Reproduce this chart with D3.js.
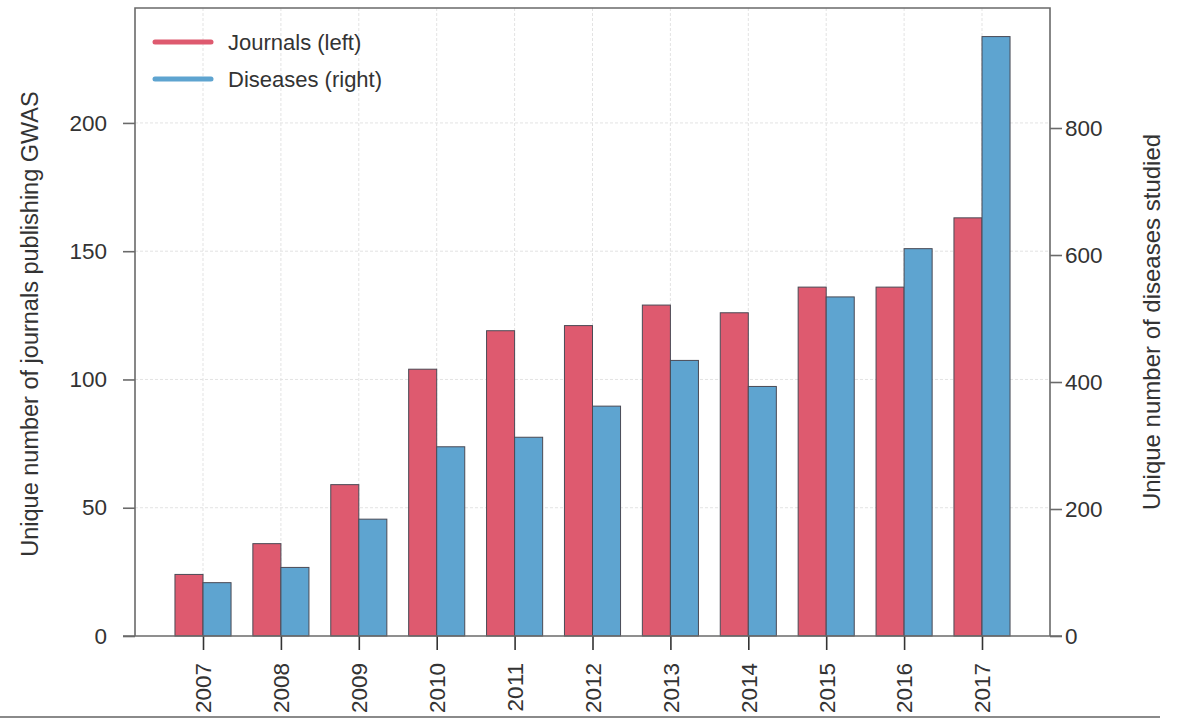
<!DOCTYPE html>
<html>
<head>
<meta charset="utf-8">
<script src="https://cdn.jsdelivr.net/npm/d3@7"></script>
<style>
  html, body { margin: 0; padding: 0; background: #fff; }
  svg { display: block; }
  text { font-family: "Liberation Sans", Arial, sans-serif; fill: #333; }
</style>
</head>
<body>
<svg id="chart" width="1183" height="719"></svg>
<script>
// Yearly counts of GWAS publishing journals and diseases studied
const years = ["2007","2008","2009","2010","2011","2012","2013","2014","2015","2016","2017"];
const journals = [24, 36, 59, 104, 119, 121, 129, 126, 136, 136, 163];
const diseases = [84, 108, 184, 298, 313, 362, 434, 393, 534, 610, 944];
const leftTicks = [0, 50, 100, 150, 200];
const rightTicks = [0, 200, 400, 600, 800];
const seriesNames = ["Journals (left)", "Diseases (right)"];
const colors = ["#DE5A6F", "#5EA4D0"];

const svg = d3.select("#chart");
const plot = { left: 135, right: 1050, top: 8, bottom: 636 };

const x = d3.scalePoint().domain(years).range([plot.left, plot.right]).padding(0.873);
const yL = d3.scaleLinear().domain([0, 244.8]).range([plot.bottom, plot.top]);
const yR = d3.scaleLinear().domain([0, 989]).range([plot.bottom, plot.top]);
const barW = x.step() * 0.36;

// grid
const grid = svg.append("g");
grid.selectAll("line.v").data(years).join("line")
  .attr("x1", d => x(d)).attr("x2", d => x(d))
  .attr("y1", plot.top).attr("y2", plot.bottom)
  .attr("stroke", "#e3e3e3").attr("stroke-width", 1).attr("stroke-dasharray", "3,2");
grid.selectAll("line.h").data(leftTicks.slice(1)).join("line")
  .attr("x1", plot.left).attr("x2", plot.right)
  .attr("y1", d => yL(d)).attr("y2", d => yL(d))
  .attr("stroke", "#e3e3e3").attr("stroke-width", 1).attr("stroke-dasharray", "3,2");

// bars
const bars = svg.append("g");
bars.selectAll("rect.j").data(years).join("rect")
  .attr("x", d => x(d) - barW).attr("width", barW)
  .attr("y", (d, i) => yL(journals[i])).attr("height", (d, i) => plot.bottom - yL(journals[i]))
  .attr("fill", colors[0]).attr("stroke", "#4a4a55").attr("stroke-width", 1);
bars.selectAll("rect.d").data(years).join("rect")
  .attr("x", d => x(d)).attr("width", barW)
  .attr("y", (d, i) => yR(diseases[i])).attr("height", (d, i) => plot.bottom - yR(diseases[i]))
  .attr("fill", colors[1]).attr("stroke", "#4a4a55").attr("stroke-width", 1);

// frame: left, top, right
svg.append("path")
  .attr("d", `M${plot.left},${plot.bottom}V${plot.top}H${plot.right}V${plot.bottom}`)
  .attr("fill", "none").attr("stroke", "#6a6a6a").attr("stroke-width", 1.6);

// axes
const axL = svg.append("g").attr("transform", `translate(${plot.left},0)`)
  .call(d3.axisLeft(yL).tickValues(leftTicks).tickSize(12).tickPadding(16));
const axR = svg.append("g").attr("transform", `translate(${plot.right},0)`)
  .call(d3.axisRight(yR).tickValues(rightTicks).tickSize(12).tickPadding(3));
const axB = svg.append("g").attr("transform", `translate(0,${plot.bottom})`)
  .call(d3.axisBottom(x).tickSize(14));
[axL, axR, axB].forEach(a => {
  a.select(".domain").remove();
  a.selectAll(".tick line").attr("stroke", "#6a6a6a").attr("stroke-width", 1.6);
  a.selectAll("text").attr("font-size", 22.5).attr("fill", "#333")
    .style("font-family", '"Liberation Sans", Arial, sans-serif');
});
// baseline
svg.append("line").attr("x1", plot.left - 12).attr("x2", plot.right + 12)
  .attr("y1", plot.bottom).attr("y2", plot.bottom)
  .attr("stroke", "#6a6a6a").attr("stroke-width", 1.6);
axB.selectAll(".tick line").attr("stroke", "#333");
axB.selectAll("text")
  .attr("transform", "rotate(-90)")
  .attr("text-anchor", "end")
  .attr("x", -27).attr("y", 0).attr("dy", "0.35em");

// axis titles
svg.append("text")
  .attr("transform", `translate(38,${(plot.top + plot.bottom) / 2 + 2}) rotate(-90)`)
  .attr("text-anchor", "middle").attr("font-size", 23.5)
  .text("Unique number of journals publishing GWAS");
svg.append("text")
  .attr("transform", `translate(1160,${(plot.top + plot.bottom) / 2}) rotate(-90)`)
  .attr("text-anchor", "middle").attr("font-size", 24)
  .text("Unique number of diseases studied");

// legend
const legend = svg.append("g").attr("transform", "translate(155,42)");
seriesNames.forEach((name, i) => {
  const g = legend.append("g").attr("transform", `translate(0,${i * 37})`);
  g.append("line").attr("x1", 0).attr("x2", 56).attr("y1", 0).attr("y2", 0)
    .attr("stroke", colors[i]).attr("stroke-width", 5).attr("stroke-linecap", "round");
  g.append("text").attr("x", 73).attr("y", 0).attr("dy", "0.35em")
    .attr("font-size", 22).text(name);
});

// bottom rule
svg.append("line").attr("x1", 0).attr("x2", 1160).attr("y1", 717).attr("y2", 717)
  .attr("stroke", "#8a8a8a").attr("stroke-width", 2);
</script>
</body>
</html>
